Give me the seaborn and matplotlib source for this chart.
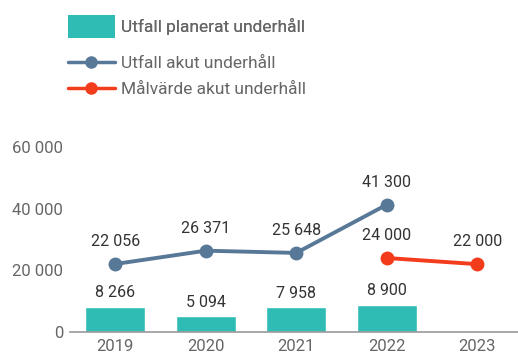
import numpy as np
import pandas as pd
import matplotlib.pyplot as plt
import seaborn as sns
from matplotlib.patches import Patch
from matplotlib.lines import Line2D

years = ["2019", "2020", "2021", "2022", "2023"]
planerat = [8266, 5094, 7958, 8900, np.nan]
akut = [22056, 26371, 25648, 41300, np.nan]
malvarde = [np.nan, np.nan, np.nan, 24000, 22000]
yticks = [0, 20000, 40000, 60000]

teal = "#2ebcb4"
slate = "#587897"
red = "#f23c1c"

sns.set_theme(style="white")
plt.rcParams["font.family"] = ["Roboto", "DejaVu Sans"]


def fmt(v):
    return f"{int(v):,}".replace(",", " ")


df = pd.DataFrame({"year": years, "planerat": planerat})
pos = np.arange(len(years))

fig = plt.figure(figsize=(5.18, 3.56), dpi=100)
ax = fig.add_axes([70 / 518, 24 / 356, 448 / 518, 185 / 356])

sns.barplot(data=df, x="year", y="planerat", color=teal, saturation=1,
            width=0.66, ax=ax, order=years)
sns.lineplot(x=pos, y=akut, color=slate, marker="o", markersize=10,
             markeredgewidth=0, linewidth=2.8, ax=ax)
sns.lineplot(x=pos, y=malvarde, color=red, marker="o", markersize=10,
             markeredgewidth=0, linewidth=2.8, ax=ax)

# data labels
for i, v in enumerate(planerat):
    if not np.isnan(v):
        ax.annotate(fmt(v), (i, v), xytext=(0, 10), textcoords="offset points",
                    ha="center", va="center", fontsize=11.5, color="#333333")
for series in (akut, malvarde):
    for i, v in enumerate(series):
        if not np.isnan(v):
            ax.annotate(fmt(v), (i, v), xytext=(0, 16), textcoords="offset points",
                        ha="center", va="center", fontsize=11.5, color="#333333")

ax.set_xlim(-0.5, 4.45)
ax.set_ylim(0, 60000)
ax.set_yticks(yticks)
ax.set_yticklabels([fmt(t) for t in yticks])
ax.set_xlabel("")
ax.set_ylabel("")
ax.tick_params(axis="both", length=0, labelsize=12, labelcolor="#666666")
ax.tick_params(axis="y", pad=5)
ax.tick_params(axis="x", pad=5)
for s in ["top", "right", "left"]:
    ax.spines[s].set_visible(False)
ax.spines["bottom"].set_color("#999999")
ax.spines["bottom"].set_linewidth(1.2)
for child in ax.get_children():
    try:
        child.set_clip_on(False)
    except Exception:
        pass

# legend: bar entry on its own, then the two line entries
leg1 = fig.legend([Patch(facecolor=teal, edgecolor="none")],
                  ["Utfall planerat underhåll"],
                  loc="upper left", bbox_to_anchor=(68 / 518, 1 - 15 / 356),
                  frameon=False, fontsize=12.5, labelcolor="#666666",
                  handlelength=2.7, handleheight=1.66, handletextpad=0.35,
                  borderpad=0, borderaxespad=0)
line_handles = [
    Line2D([0], [0], color=slate, marker="o", markersize=8, linewidth=2.5),
    Line2D([0], [0], color=red, marker="o", markersize=8, linewidth=2.5),
]
fig.legend(line_handles, ["Utfall akut underhåll", "Målvärde akut underhåll"],
           loc="upper left", bbox_to_anchor=(68 / 518, 1 - 56 / 356),
           frameon=False, fontsize=12.5, labelcolor="#666666",
           handlelength=2.7, handletextpad=0.35, labelspacing=0.64,
           borderpad=0, borderaxespad=0)
fig.add_artist(leg1)

fig.savefig("out.png", dpi=100)
